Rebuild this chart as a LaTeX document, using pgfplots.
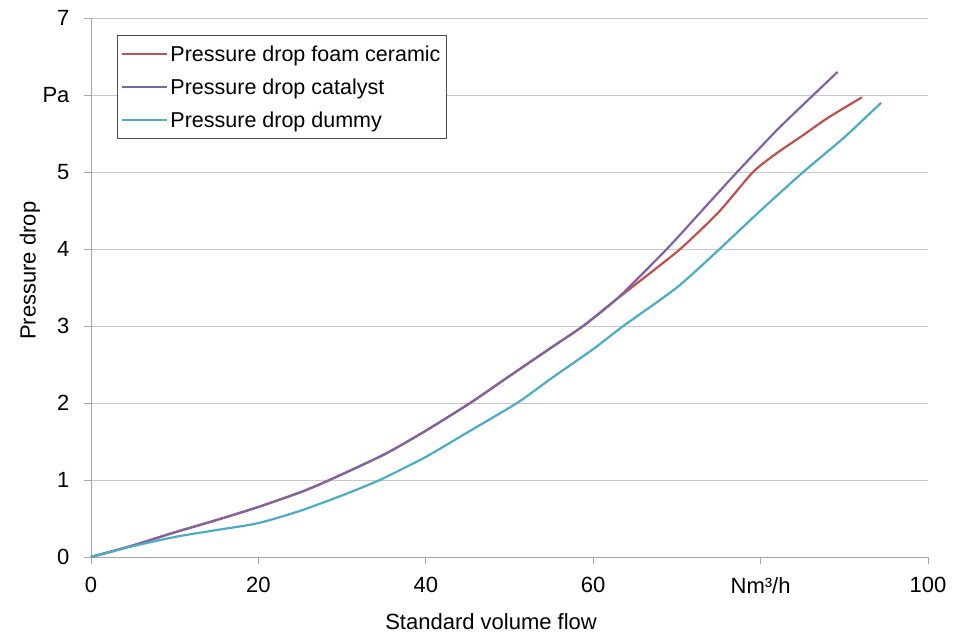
\documentclass[border=0pt]{standalone}
\usepackage{pgfplots}
\pgfplotsset{compat=1.18}
\usepackage{fontspec}
\setmainfont{Liberation Sans}
\definecolor{cred}{HTML}{C0504D}
\definecolor{cpurple}{HTML}{8064A2}
\definecolor{ccyan}{HTML}{4BACC6}
\definecolor{gridc}{HTML}{C8C8C8}
\definecolor{axc}{HTML}{A6A6A6}
\begin{document}
\begin{tikzpicture}
\useasboundingbox (-91pt,-80pt) rectangle (873pt,557pt);
\begin{axis}[
  at={(0,0)}, anchor=south west,
  scale only axis, width=837pt, height=539pt,
  xmin=0, xmax=100, ymin=0, ymax=7,
  xtick={0,20,40,60,80,100},
  xticklabels={0,20,40,60,Nm³/h,100},
  ytick={0,1,2,3,4,5,6,7},
  yticklabels={0,1,2,3,4,5,Pa,7},
  /pgf/number format/assume math mode=true,
  axis x line*=bottom, axis y line*=left,
  axis line style={draw=axc, line width=0.8pt, -},
  tick align=outside, major tick length=7pt,
  tick style={draw=axc, line width=0.8pt},
  ymajorgrids, grid style={draw=gridc, line width=1pt},
  tick label style={font=\fontsize{22}{26}\selectfont},
  yticklabel style={xshift=-11pt},
  xticklabel style={yshift=-10pt},
  xlabel={Standard volume flow},
  ylabel={Pressure drop},
  label style={font=\fontsize{22}{26}\selectfont},
  every axis x label/.append style={at={([yshift=-65pt]rel axis cs:0.478,0)}, anchor=center},
  every axis y label/.append style={at={([xshift=-61pt]rel axis cs:0,0.531)}, anchor=center},
  legend style={at={(0.031,0.968)}, anchor=north west, draw=black!70, line width=0.6pt,
    font=\fontsize{21.5}{25}\selectfont, inner xsep=4pt, inner ysep=8pt, row sep=12pt,
    cells={anchor=west}},
  legend image code/.code={\draw[#1, line width=2.2pt] (0pt,0pt) -- (45pt,0pt);},
  every axis plot/.append style={line width=2.2pt},
  clip=false,
]
\addplot[cred, smooth, tension=0.4] coordinates {
(0,0) (5,0.15) (10,0.32) (15,0.48) (20,0.65) (25,0.84) (28.5,1.0) (35,1.33) (40,1.64)
(45.3,2.0) (50,2.35) (55,2.72) (58.8,3.0) (62,3.28) (66,3.62) (70.4,4.0) (75,4.48)
(79.1,5.0) (82,5.25) (84.7,5.45) (88,5.7) (92.1,5.97)};
\addlegendentry{Pressure drop foam ceramic}
\addplot[cpurple, smooth, tension=0.4] coordinates {
(0,0) (5,0.15) (10,0.32) (15,0.48) (20,0.65) (25,0.84) (28.5,1.0) (35,1.33) (40,1.64)
(45.3,2.0) (50,2.35) (55,2.72) (58.8,3.0) (63,3.37) (68.8,4.0) (73,4.5) (77.2,5.0)
(82,5.55) (86.3,6.0) (89.2,6.3)};
\addlegendentry{Pressure drop catalyst}
\addplot[ccyan, smooth, tension=0.4] coordinates {
(0,0) (5,0.14) (10,0.26) (15,0.35) (20,0.44) (25,0.6) (30,0.8) (34.5,1.0) (40,1.3)
(45,1.62) (50.9,2.0) (55,2.32) (60,2.7) (63.6,3.0) (70,3.5) (75.1,4.0) (80,4.5)
(85.1,5.0) (90,5.45) (94.4,5.9)};
\addlegendentry{Pressure drop dummy}
\end{axis}
\end{tikzpicture}
\end{document}
